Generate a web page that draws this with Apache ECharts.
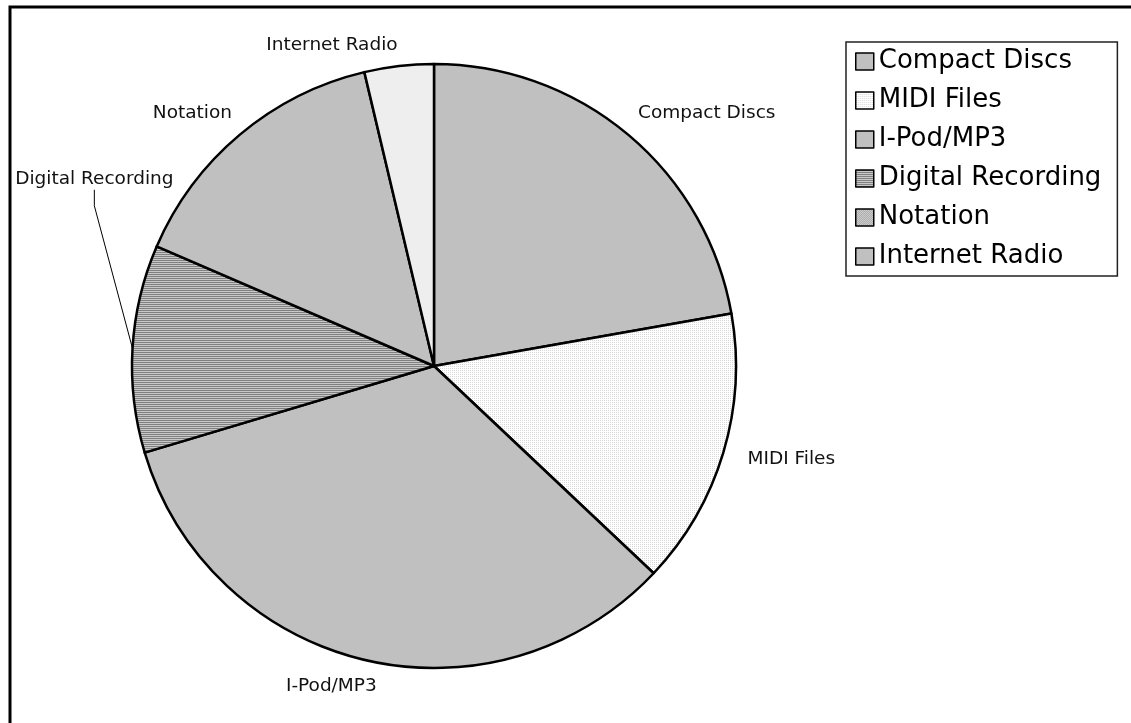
<!DOCTYPE html>
<html><head><meta charset="utf-8">
<script src="https://cdn.jsdelivr.net/npm/echarts@6/dist/echarts.min.js"></script>
<style>html,body{margin:0;padding:0;background:#fff}#c{width:1131px;height:723px}</style>
</head><body><div id="c"></div>
<script>
const categories = ['Compact Discs', 'MIDI Files', 'I-Pod/MP3', 'Digital Recording', 'Notation', 'Internet Radio'];
const values = [6, 4, 9, 3, 4, 1];

function pattern(w, h, draw) {
  const c = document.createElement('canvas');
  c.width = w; c.height = h;
  draw(c.getContext('2d'));
  return { image: c, repeat: 'repeat' };
}
const dots = pattern(2, 2, g => { g.fillStyle = '#ffffff'; g.fillRect(0, 0, 2, 2); g.fillStyle = '#d6d6d6'; g.fillRect(0, 0, 1, 1); });
const stripes = pattern(1, 2, g => { g.fillStyle = '#c8c8c8'; g.fillRect(0, 0, 1, 2); g.fillStyle = '#808080'; g.fillRect(0, 0, 1, 1); });
const grayDots = pattern(2, 2, g => { g.fillStyle = '#dadada'; g.fillRect(0, 0, 2, 2); g.fillStyle = '#a0a0a0'; g.fillRect(0, 0, 1, 1); g.fillRect(1, 1, 1, 1); });

const sliceFill = { 'Compact Discs': '#c0c0c0', 'MIDI Files': dots, 'I-Pod/MP3': '#c0c0c0', 'Digital Recording': stripes, 'Notation': '#c0c0c0', 'Internet Radio': '#eeeeee' };
const legendFill = { 'Compact Discs': '#c0c0c0', 'MIDI Files': dots, 'I-Pod/MP3': '#c0c0c0', 'Digital Recording': stripes, 'Notation': grayDots, 'Internet Radio': '#c0c0c0' };
const labelNudge = { 'Compact Discs': [-6, -6], 'MIDI Files': [2, 1], 'I-Pod/MP3': [20, 7], 'Digital Recording': [64, -168], 'Notation': [8, -6], 'Internet Radio': [4, -1] };

const FONT = '"DejaVu Sans", Verdana, sans-serif';
const chart = echarts.init(document.getElementById('c'), null, { renderer: 'canvas' });
chart.setOption({
  animation: false,
  backgroundColor: '#ffffff',
  graphic: [{
    type: 'rect', silent: true, z: 100,
    shape: { x: 10, y: 7, width: 1300, height: 900 },
    style: { fill: 'none', stroke: '#000', lineWidth: 3 }
  }],
  legend: {
    orient: 'vertical', left: 846, top: 42,
    padding: [0, 16, 0, 9],
    borderColor: '#222', borderWidth: 1.5,
    itemGap: 0, itemWidth: 18, itemHeight: 17,
    icon: 'rect', selectedMode: false,
    itemStyle: { borderColor: '#000', borderWidth: 1.5 },
    textStyle: { fontFamily: FONT, fontSize: 26, color: '#000', lineHeight: 39 },
    data: categories.map(n => ({ name: n, itemStyle: { color: legendFill[n], borderColor: '#000', borderWidth: 1.5 } }))
  },
  series: [{
    type: 'pie',
    center: [434, 366], radius: 302,
    startAngle: 90, clockwise: true,
    avoidLabelOverlap: false,
    emphasis: { disabled: true },
    itemStyle: { borderColor: '#000', borderWidth: 2.5 },
    label: { show: true, position: 'outside', formatter: '{b}', fontFamily: FONT, fontSize: 18.5, color: '#111', overflow: 'none', distanceToLabelLine: 3 },
    labelLine: { show: false, length: 20, length2: 0, lineStyle: { color: '#000', width: 1 } },
    labelLayout: function (p) {
      const name = categories[p.dataIndex];
      const d = labelNudge[name];
      const res = { dx: d[0], dy: d[1] };
      if (name === 'Digital Recording' && p.labelLinePoints) {
        const r = p.labelRect;
        const midX = r.x + d[0] + r.width / 2;
        const bottom = r.y + d[1] + r.height;
        res.labelLinePoints = [p.labelLinePoints[0], [midX, bottom + 17], [midX, bottom + 1]];
      }
      return res;
    },
    data: categories.map((n, i) => ({
      name: n, value: values[i],
      itemStyle: { color: sliceFill[n] },
      labelLine: { show: n === 'Digital Recording' }
    }))
  }]
});
</script>
</body></html>
